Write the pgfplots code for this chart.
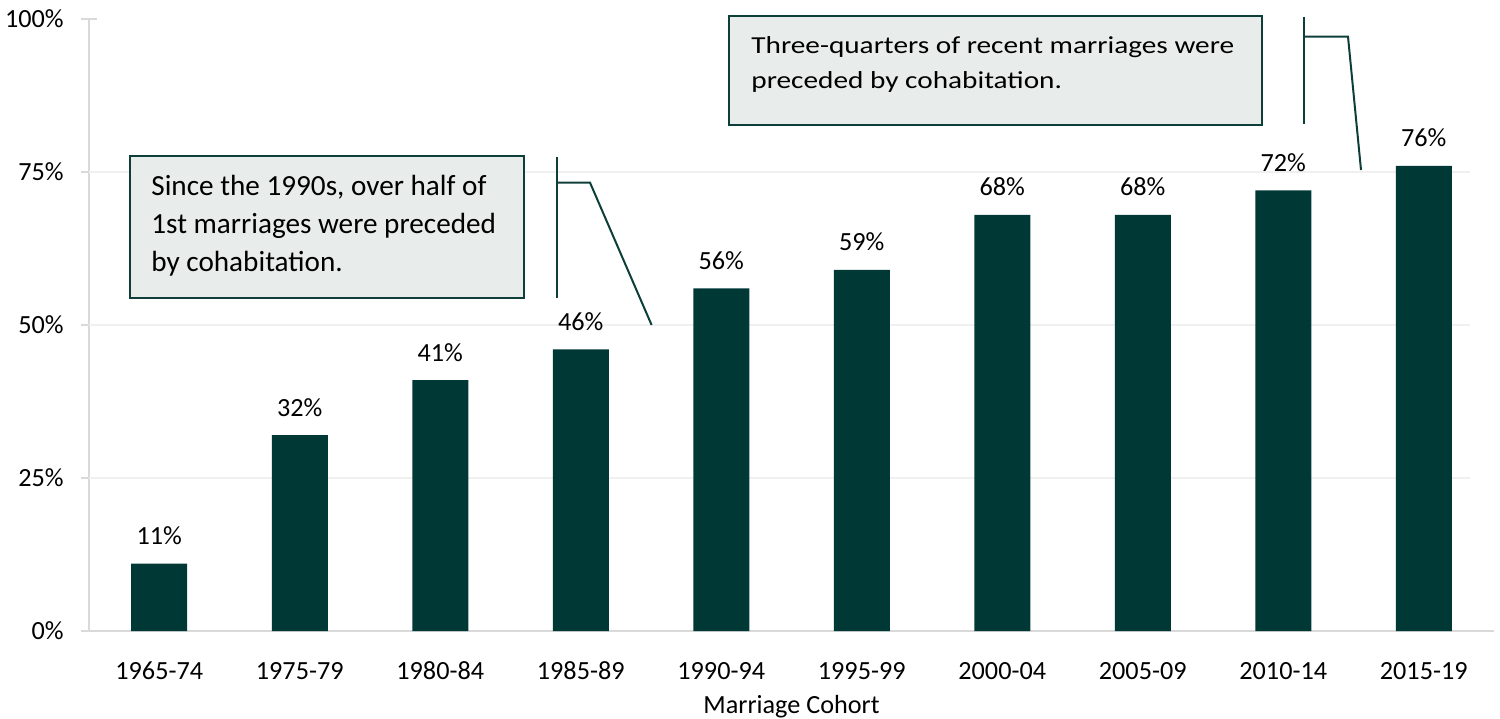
\documentclass[border=0pt]{standalone}
\usepackage{pgfplots}
\pgfplotsset{compat=1.18}
\usepackage{fontspec}
\setmainfont{Carlito}
\newfontfamily\widefont[FakeStretch=1.2]{Carlito}
\definecolor{barcol}{RGB}{0,56,54}
\definecolor{boxfill}{RGB}{232,237,236}
\definecolor{boxline}{RGB}{14,62,58}
\definecolor{axcol}{RGB}{217,217,217}
\definecolor{gridcol}{RGB}{240,240,240}
\begin{document}
\begin{tikzpicture}[font=\fontsize{13.1bp}{15.6bp}\selectfont]
\useasboundingbox (-44.5bp,-44bp) rectangle (705.5bp,315.5bp);
\begin{axis}[
  at={(0,0)}, anchor=south west,
  scale only axis, width=702.5bp, height=306bp,
  xmin=-0.5, xmax=9.5, ymin=0, ymax=100,
  axis x line*=bottom, axis y line*=left,
  axis line style={draw=axcol, line width=1.2bp, -},
  xtick={0,...,9},
  xticklabels={1965-74,1975-79,1980-84,1985-89,1990-94,1995-99,2000-04,2005-09,2010-14,2015-19},
  xtick style={draw=none},
  ytick={0,25,50,75,100},
  yticklabel={\pgfmathprintnumber{\tick}\%},
  ytick style={draw=axcol, line width=1.2bp},
  tick align=center, major tick length=8bp,
  /pgf/number format/assume math mode=true,
  xticklabel style={anchor=base, inner sep=0pt, yshift=-20bp},
  yticklabel style={anchor=east, inner sep=0pt, xshift=-8.5bp},
  xlabel={Marriage Cohort},
  xlabel style={at={(axis description cs:0.5,0)}, anchor=base, inner sep=0pt, yshift=-41bp},
  clip=false,
]
\draw[gridcol, line width=1bp] (axis cs:-0.5,25) -- (axis cs:9.33,25);
\draw[gridcol, line width=1bp] (axis cs:-0.5,50) -- (axis cs:9.33,50);
\draw[gridcol, line width=1bp] (axis cs:-0.5,75) -- (axis cs:9.33,75);
\addplot[ybar, bar width=28bp, fill=barcol, draw=none,
  nodes near coords={\pgfmathprintnumber{\pgfplotspointmeta}\%},
  nodes near coords style={anchor=base, inner sep=0pt, yshift=9.5bp, text=black}] coordinates {
  (0,11) (1,32) (2,41) (3,46) (4,56) (5,59) (6,68) (7,68) (8,72) (9,76)
};
\end{axis}
% callout 1
\draw[boxline, line width=1.25bp, fill=boxfill] (20.5bp,237.5bp) rectangle (217.5bp,166.5bp);
\begin{scope}[font=\fontsize{14.6bp}{17bp}\selectfont]
\node[anchor=base west, inner sep=0pt] at (31bp,217.5bp) {Since the 1990s, over half of};
\node[anchor=base west, inner sep=0pt] at (31bp,198.5bp) {1st marriages were preceded};
\node[anchor=base west, inner sep=0pt] at (31bp,179.7bp) {by cohabitation.};
\end{scope}
\draw[boxline, line width=1bp] (233.8bp,237.2bp) -- (233.8bp,166.5bp);
\draw[boxline, line width=1bp] (233.8bp,224.2bp) -- (250.5bp,224.2bp) -- (281.3bp,153bp);
% callout 2
\draw[boxline, line width=1.25bp, fill=boxfill] (320bp,307.5bp) rectangle (586.5bp,253bp);
\begin{scope}[font=\widefont\fontsize{12.2bp}{15bp}\selectfont]
\node[anchor=base west, inner sep=0pt] at (331bp,288.9bp) {Three-quarters of recent marriages were};
\node[anchor=base west, inner sep=0pt] at (331bp,271.4bp) {preceded by cohabitation.};
\end{scope}
\draw[boxline, line width=1bp] (607.5bp,307.2bp) -- (607.5bp,253.5bp);
\draw[boxline, line width=1bp] (607.5bp,297.2bp) -- (629.5bp,297.2bp) -- (636bp,230.5bp);
\end{tikzpicture}
\end{document}
